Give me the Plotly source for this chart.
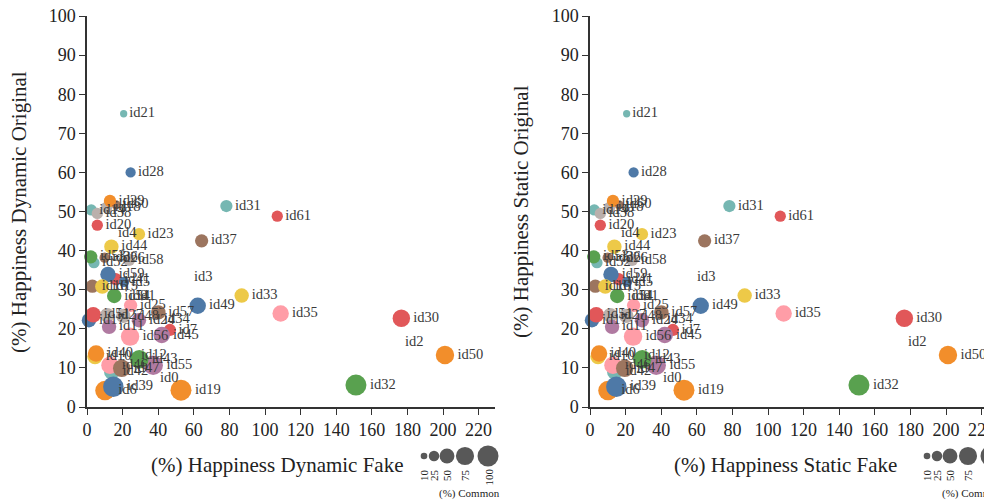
import plotly.graph_objects as go

# ---------------- data ----------------
ids = ["id21", "id28", "id14", "id38", "id60", "id18", "id29", "id20", "id4", "id23",
       "id44", "id52", "id53", "id36", "id26", "id58", "id41", "id59", "id5", "id16",
       "id15", "id54", "id9", "id1", "id25", "id17", "id51", "id27", "id48", "id11",
       "id24", "id34", "id57", "id7", "id45", "id56", "id10", "id40", "id42", "id46",
       "id47", "id12", "id55", "id43", "id0", "id6", "id39", "id19", "id49", "id3",
       "id33", "id35", "id30", "id2", "id50", "id32", "id31", "id61", "id37"]
fake = [20.6, 24.5, 2.4, 5.8, 16.3, 11.1, 12.9, 5.8, 17.4, 29.2,
        13.7, 3.9, 2.1, 9.9, 18.0, 23.6, 16.1, 11.8, 20.8, 3.0,
        8.6, 15.3, 23.6, 28.1, 24.5, 1.1, 3.5, 11.4, 20.4, 12.4,
        29.2, 43.3, 40.1, 46.6, 42.0, 24.2, 4.5, 5.1, 13.9, 12.9,
        19.5, 30.3, 37.2, 29.4, 41.0, 10.1, 14.8, 52.8, 62.2, 60.1,
        86.9, 108.8, 176.6, 178.7, 201.1, 151.1, 78.3, 106.9, 64.4]
original = [75.0, 60.0, 50.4, 49.5, 51.7, 51.1, 52.7, 46.5, 44.5, 44.2,
            41.0, 36.9, 38.4, 38.2, 38.0, 37.6, 32.7, 33.9, 32.0, 30.9,
            30.8, 28.4, 28.4, 28.4, 26.0, 22.2, 23.6, 23.5, 23.3, 20.5,
            22.2, 22.3, 24.2, 19.7, 18.4, 18.0, 12.9, 13.7, 9.0, 10.7,
            9.9, 13.3, 10.7, 12.2, 7.4, 4.2, 5.2, 4.3, 25.9, 33.2,
            28.5, 23.9, 22.7, 16.6, 13.3, 5.6, 51.4, 48.8, 42.5]
common = [12, 24, 29, 29, 19, 29, 34, 29, 0, 34,
          47, 29, 40, 24, 0, 34, 34, 54, 24, 40,
          47, 47, 0, 0, 40, 47, 54, 47, 47, 47,
          47, 0, 47, 34, 61, 77, 54, 61, 54, 69,
          69, 0, 86, 77, 0, 86, 95, 100, 61, 0,
          47, 61, 69, 0, 77, 100, 34, 29, 40]
group = ["teal", "blue", "teal", "grey", "brown", "grey", "orange", "red", "grey", "yellow",
         "yellow", "teal", "green", "brown", "grey", "grey", "red", "blue", "blue", "brown",
         "yellow", "green", "grey", "grey", "pink", "blue", "red", "grey", "grey", "purple",
         "purple", "grey", "brown", "red", "purple", "pink", "yellow", "orange", "teal", "pink",
         "brown", "grey", "purple", "green", "grey", "orange", "blue", "orange", "blue", "grey",
         "yellow", "pink", "red", "grey", "orange", "green", "teal", "red", "brown"]

key_sizes = [10, 25, 50, 75, 100]
key_labels = ["10", "25", "50", "75", "100"]

x_ticks = list(range(0, 221, 20))
y_ticks = list(range(0, 101, 10))

panels = [
    {"xtitle": "(%) Happiness Dynamic Fake", "ytitle": "(%) Happiness Dynamic Original"},
    {"xtitle": "(%) Happiness Static Fake", "ytitle": "(%) Happiness Static Original"},
]

# ---------------- styles ----------------
palette = {"orange": "#F28E2B", "teal": "#76B7B2", "blue": "#4E79A7", "red": "#E15759",
           "green": "#59A14F", "yellow": "#EDC948", "purple": "#B07AA1", "pink": "#FF9DA7",
           "brown": "#9C755F", "grey": "#BAB0AC"}
FONT = "Liberation Serif"
OFF = 8                      # page body margin of the html page
VW, VH = 992, 501            # visible window
W, H = VW - OFF, VH - OFF    # figure size
SIZEREF = 2 * 100 / (21 ** 2)  # 100 % -> 21 px diameter
AXC = "#333333"

def px_x(p):
    return (p - OFF) / W

def px_y(p):
    return 1 - (p - OFF) / H

pan_geo = [
    {"x0": 87, "x1": 495, "ymin": 407, "ymax": 16},
    {"x0": 590, "x1": 992, "ymin": 407, "ymax": 16},
]
PX_PER_UNIT = 1.78

fig = go.Figure()
colors = [palette[g] for g in group]

for i, (pan, geo) in enumerate(zip(panels, pan_geo)):
    n = "" if i == 0 else str(i + 1)
    fig.add_trace(go.Scatter(
        x=fake, y=original, mode="markers+text",
        text=ids, textposition="middle right",
        textfont=dict(family=FONT, size=14.5, color="#3a3a3a"),
        marker=dict(size=common, sizemode="area", sizeref=SIZEREF, sizemin=0,
                    color=colors, opacity=1, line=dict(width=0)),
        xaxis="x" + n, yaxis="y" + n, showlegend=False, hoverinfo="skip",
        cliponaxis=False,
    ))
    xr = (geo["x1"] - geo["x0"]) / PX_PER_UNIT
    axis_common = dict(showgrid=False, zeroline=False, showline=True, linecolor=AXC,
                       linewidth=1.5, ticks="outside", ticklen=6, tickcolor=AXC, tickwidth=1.2,
                       automargin=False, ticklabeloverflow="allow",
                       tickfont=dict(family=FONT, size=18, color="#222222"))
    fig.layout["xaxis" + n] = dict(domain=[px_x(geo["x0"]), min(1.0, px_x(geo["x1"]))],
                                   range=[0, xr], tickvals=x_ticks, anchor="y" + n,
                                   **axis_common)
    fig.layout["yaxis" + n] = dict(domain=[px_y(geo["ymin"]), px_y(geo["ymax"])],
                                   range=[0, 100], tickvals=y_ticks, anchor="x" + n,
                                   **axis_common)
    xc = 277 if i == 0 else 785
    fig.add_annotation(x=px_x(xc), y=px_y(465), xref="paper", yref="paper",
                       xanchor="center", yanchor="middle",
                       text=pan["xtitle"], showarrow=False,
                       font=dict(family=FONT, size=21, color="#222222"))
    yx = 19 if i == 0 else 521
    fig.add_annotation(x=px_x(yx), y=px_y(212), xref="paper", yref="paper",
                       xanchor="center", yanchor="middle",
                       text=pan["ytitle"], showarrow=False, textangle=-90,
                       font=dict(family=FONT, size=21, color="#222222"))

# ---------------- bubble size key (overlay axis in window pixel coordinates) ----------------
key_x_offsets = [0, 10, 23, 41, 64]
key_base = [424, 927]
kx, ky, ks = [], [], []
for b in key_base:
    for off, s in zip(key_x_offsets, key_sizes):
        kx.append(b + off)
        ky.append(456)
        ks.append(s)
fig.add_trace(go.Scatter(
    x=kx, y=ky, mode="markers", xaxis="x3", yaxis="y3",
    marker=dict(size=ks, sizemode="area", sizeref=SIZEREF, color="#111111", line=dict(width=0)),
    showlegend=False, hoverinfo="skip", cliponaxis=False))
fig.layout["xaxis3"] = dict(domain=[0, 1], range=[OFF, VW], visible=False, anchor="y3",
                            fixedrange=True, automargin=False)
fig.layout["yaxis3"] = dict(domain=[0, 1], range=[VH, OFF], visible=False, anchor="x3",
                            fixedrange=True, automargin=False)
for b in key_base:
    for off, lab in zip(key_x_offsets, key_labels):
        fig.add_annotation(x=b + off, y=467, xref="x3", yref="y3", text=lab,
                           showarrow=False, textangle=-90, yanchor="top", xanchor="center",
                           font=dict(family=FONT, size=11, color="#222222"))
    fig.add_annotation(x=b + 45, y=493, xref="x3", yref="y3", text="(%) Common",
                       showarrow=False, xanchor="center", yanchor="middle",
                       font=dict(family=FONT, size=11, color="#222222"))

fig.update_layout(width=W, height=H, margin=dict(l=0, r=0, t=0, b=0, autoexpand=False),
                  paper_bgcolor="white", plot_bgcolor="rgba(0,0,0,0)")

fig.write_html("out.html")
